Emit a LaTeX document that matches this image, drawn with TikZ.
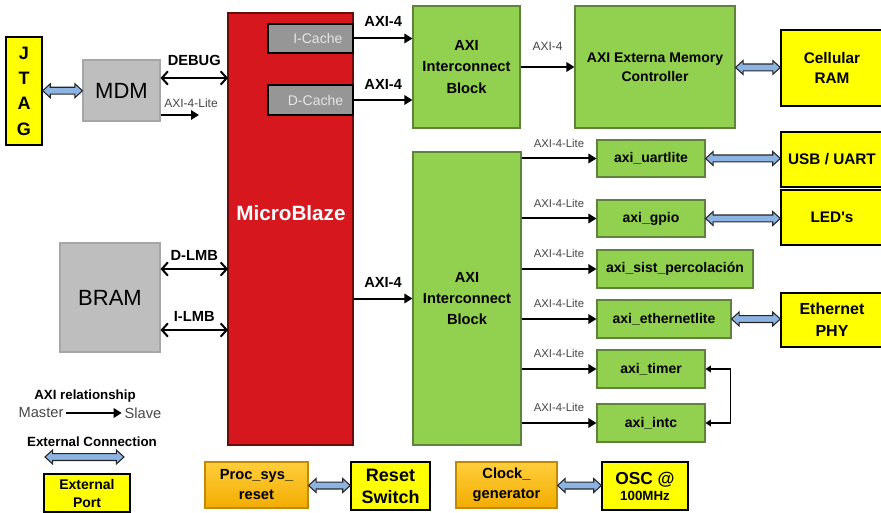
\documentclass[tikz,border=0pt]{standalone}
\usepackage{fontspec}
\setmainfont{Liberation Sans}
\usepackage{tikz}
\usepackage{xcolor}
\usetikzlibrary{arrows.meta, calc, shapes.arrows}

\definecolor{axigreen}{RGB}{146,208,80}
\definecolor{axigreenline}{RGB}{95,130,60}
\definecolor{mbred}{RGB}{214,24,30}
\definecolor{mbredline}{RGB}{105,12,12}
\definecolor{blockgray}{RGB}{190,190,190}
\definecolor{cachegray}{RGB}{150,150,150}
\definecolor{portyellow}{RGB}{255,255,0}
\definecolor{orangetop}{RGB}{255,206,60}
\definecolor{orangebottom}{RGB}{242,172,0}
\definecolor{linkblue}{RGB}{141,179,226}
\definecolor{legendgray}{RGB}{70,70,70}

\newcommand{\fsz}[2]{\fontsize{#1}{#2}\selectfont}

\tikzset{
  boxsize/.style 2 args={minimum width=#1*0.75pt, minimum height=#2*0.75pt},
  box/.style={rectangle, inner sep=0pt, align=center, line width=0.8pt},
  greenbox/.style={box, fill=axigreen, draw=axigreenline},
  periph/.style={greenbox, font=\bfseries\fsz{10.5}{12}},
  portbox/.style={box, fill=portyellow, draw=black, line width=1pt},
  graybox/.style={box, fill=blockgray, draw=black!35, font=\fsz{16.5}{18}},
  cachebox/.style={box, fill=cachegray, draw=black, line width=1.5pt, text=black!10, font=\fsz{10.5}{12}},
  orangebox/.style={box, top color=orangetop, bottom color=orangebottom, draw=orangebottom!80!black, font=\bfseries\fsz{11}{15}},
  axiarrow/.style={line width=1.5pt, -{Triangle[length=6pt, width=7pt]}},
  busarrow/.style={line width=1.5pt, {Straight Barb[length=4.5pt, width=10pt]}-{Straight Barb[length=4.5pt, width=10pt]}},
  irqarrow/.style={line width=1.2pt, {Triangle[length=4pt, width=5pt]}-{Triangle[length=4pt, width=5pt]}},
  buslabel/.style={inner sep=0pt, font=\bfseries\fsz{11}{12}},
  litelabel/.style={inner sep=0pt, font=\fsz{8.5}{10}, text=legendgray},
  linkarrow/.style={double arrow, draw=black!85, line width=0.8pt, fill=linkblue,
    inner xsep=0pt, inner ysep=2.2pt, double arrow head extend=2.6pt, double arrow tip angle=85}
}

% fat blue arrow between two points
\newcommand{\portlink}[2]{%
  \path let \p1=($(#2)-(#1)$), \n1={veclen(\x1,\y1)} in
    (#1) -- (#2) node[midway, linkarrow, minimum height=\n1] {};}

\begin{document}
\begin{tikzpicture}[x=0.75pt,y=-0.75pt]
\useasboundingbox (0,0) rectangle (881,513);

%Processor and caches
\node[box, fill=mbred, draw=mbredline, boxsize={125}{432}] (mb) at (290.5,229) {};
\node[inner sep=0pt, text=white, font=\bfseries\fsz{15.5}{17}] (mbname) at (291,213) {MicroBlaze};
\node[cachebox, boxsize={85}{29}] (icache) at (310.5,38.5) {\hspace*{11pt}I-Cache};
\node[cachebox, boxsize={85}{30}] (dcache) at (310.5,100) {\hspace*{7.5pt}D-Cache};

%Debug and local memory
\node[portbox, boxsize={36}{108}, font=\bfseries\fsz{13.5}{19}] (jtag) at (24,91) {J\\T\\A\\G};
\node[graybox, boxsize={77}{61}] (mdm) at (121.5,90.5) {MDM};
\node[graybox, boxsize={100}{109}] (bram) at (110,297.5) {BRAM};

%Interconnects
\node[greenbox, boxsize={107}{122}, font=\bfseries\fsz{11}{16}] (ic1) at (466.5,67) {AXI\\Interconnect\\Block};
\node[greenbox, boxsize={108}{293}, font=\bfseries\fsz{11}{15.5}] (ic2) at (467,298.5) {AXI\\Interconnect\\Block};
\node[greenbox, boxsize={160}{122}, font=\bfseries\fsz{10.5}{14.5}] (emc) at (655,67) {AXI Externa Memory\\Controller};

%Peripherals
\node[periph, boxsize={108}{37}] (uart) at (651,158.5) {axi\_uartlite};
\node[periph, boxsize={108}{37}] (gpio) at (651,218.5) {axi\_gpio};
\node[periph, boxsize={156}{38}] (perc) at (675,269) {axi\_sist\_percolación};
\node[periph, boxsize={134}{38}] (eth) at (664,319) {axi\_ethernetlite};
\node[periph, boxsize={108}{38}] (timer) at (651,369) {axi\_timer};
\node[periph, boxsize={108}{38}] (intc) at (651,423) {axi\_intc};

%External ports
\node[portbox, boxsize={102}{76}, font=\bfseries\fsz{11.5}{15}] (cram) at (832,68) {Cellular\\RAM};
\node[portbox, boxsize={102}{55}, font=\bfseries\fsz{11.5}{13}] (usb) at (832,159.5) {USB / UART};
\node[portbox, boxsize={102}{55}, font=\bfseries\fsz{11.5}{13}] (leds) at (832,217.5) {LED\textquotesingle s};
\node[portbox, boxsize={102}{54}, font=\bfseries\fsz{12}{16.5}] (phy) at (832,320) {Ethernet\\PHY};

%Reset and clock
\node[orangebox, boxsize={103}{46}] (proc) at (256.5,485) {Proc\_sys\_\\reset};
\node[portbox, boxsize={79}{48}, font=\bfseries\fsz{13.5}{16.5}] (rst) at (390.5,486) {Reset\\Switch};
\node[orangebox, boxsize={101}{46}] (clk) at (506.5,485) {Clock\_\\generator};
\node[portbox, boxsize={86}{48}] (osc) at (645,486) {{\bfseries\fsz{13}{16}OSC @}\\{\bfseries\fsz{10}{15}100MHz}};

%Legend
\node[inner sep=0pt, font=\bfseries\fsz{10}{12}] (axirel) at (85,396) {AXI relationship};
\node[inner sep=2pt, text=legendgray, font=\fsz{11}{12}] (master) at (41,413) {Master};
\node[inner sep=2pt, text=legendgray, font=\fsz{11}{12}] (slave) at (143,413) {Slave};
\node[inner sep=0pt, font=\bfseries\fsz{10}{12}] (extcon) at (92,442) {External Connection};
\coordinate (extl) at (45,457);
\coordinate (extr) at (124,457);
\node[portbox, boxsize={86}{38}, font=\bfseries\fsz{10.5}{13.5}] (extport) at (87,493) {External\\Port};

%Connections to MicroBlaze
\coordinate (mbdebug) at (228,78);
\coordinate (mdmlite) at (199,115);
\coordinate (mbdlmb) at (228,269);
\coordinate (mbilmb) at (228,330);
\draw[busarrow] (mdm.east |- mbdebug) -- (mbdebug) node[buslabel, midway, above=8.5pt] {DEBUG};
\draw[axiarrow] (mdm.east |- mdmlite) -- (mdmlite);
\node[litelabel, font=\fsz{9}{10}] (mdmlitetext) at (191,103) {AXI-4-Lite};
\draw[busarrow] (bram.east |- mbdlmb) -- (mbdlmb) node[buslabel, midway, above=5.5pt] {D-LMB};
\draw[busarrow] (bram.east |- mbilmb) -- (mbilmb) node[buslabel, midway, above=5.5pt] {I-LMB};

%AXI buses
\draw[axiarrow] (icache) -- (icache -| ic1.west) node[buslabel, midway, above=8.5pt] {AXI-4};
\draw[axiarrow] (dcache) -- (dcache -| ic1.west) node[buslabel, midway, above=7pt] {AXI-4};
\draw[axiarrow] (mb.east |- ic2.west) -- (ic2.west) node[buslabel, midway, above=7.5pt] {AXI-4};
\draw[axiarrow] (ic1.east) -- (emc.west |- ic1.east) node[litelabel, midway, above=11.5pt, font=\fsz{9}{10}] {AXI-4};
\foreach \dev in {uart, gpio, perc, eth, timer, intc}
  \draw[axiarrow] (ic2.east |- \dev.west) -- (\dev.west) node[litelabel, midway, above=7.5pt] {AXI-4-Lite};
\draw[irqarrow] (timer.east) -- ++(25,0) |- (intc.east);

%External links
\portlink{jtag.east}{mdm.west}
\portlink{emc.east}{cram.west}
\portlink{uart.east}{uart.east -| usb.west}
\portlink{gpio.east}{gpio.east -| leds.west}
\portlink{eth.east}{eth.east -| phy.west}
\portlink{proc.east}{rst.west}
\portlink{clk.east}{osc.west}
\portlink{extl}{extr}
\draw[axiarrow] (master) -- (slave);

\end{tikzpicture}
\end{document}
